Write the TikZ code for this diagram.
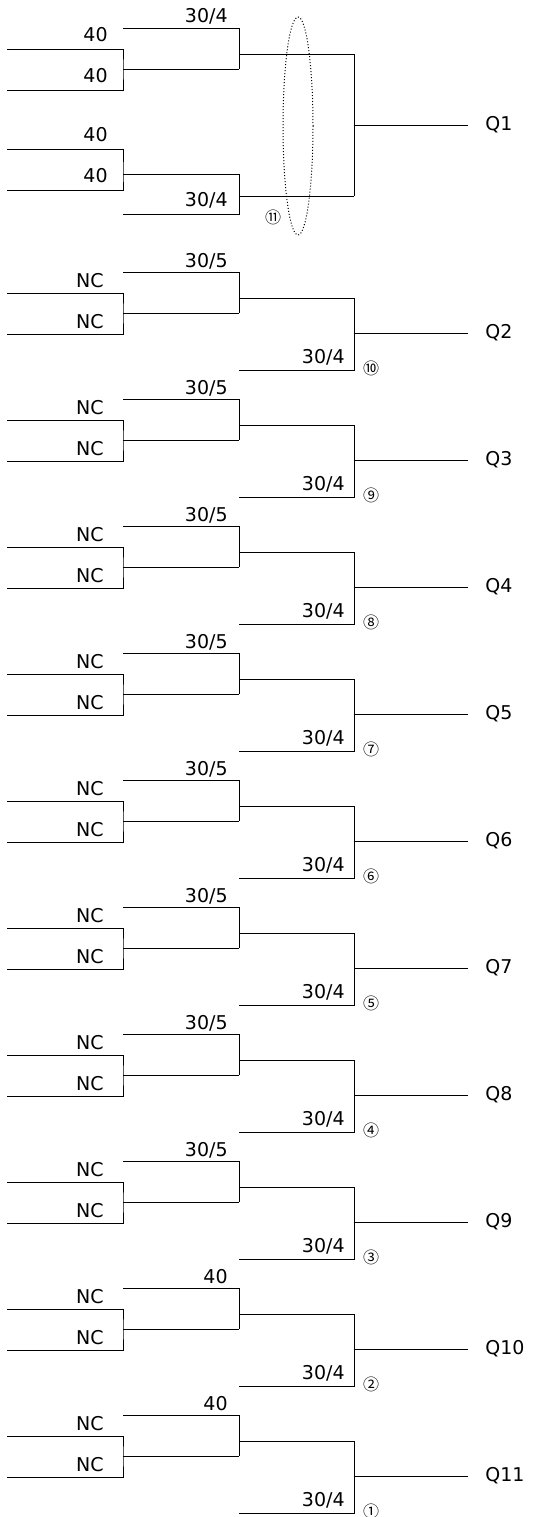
\documentclass[tikz,border=0pt]{standalone}
\usepackage{fontspec}
\setmainfont{DejaVu Sans}
\newfontfamily\cjk{Noto Sans CJK KR}

\begin{document}
\begin{tikzpicture}[x=1pt, y=-1pt, line width=0.8pt]
            \tikzset{lbl/.style = {anchor=base east, inner sep=0pt, font=\fontsize{19}{19}\selectfont},
                     qlbl/.style = {anchor=west, inner ysep=0pt, inner xsep=17pt, font=\fontsize{19}{19}\selectfont},
                     num/.style = {inner sep=0pt, font=\cjk\fontsize{16}{16}\selectfont}}
            \useasboundingbox (0,0) rectangle (552,1517);

            % upper pair of the Q1 group
            \coordinate (in1) at (7,49);
            \coordinate (in2) at (7,90);
            \coordinate (mid1) at (123,69);
            \coordinate (jn1) at (239,69);
            \coordinate (top1) at (123,28);
            \coordinate (out1) at (239,54);
            \coordinate (hub1) at (354,54);
            \draw (in1) -| (mid1) |- (in2);
            \draw (mid1) -- (jn1);
            \draw (top1) -| (jn1);
            \draw (out1) -- (hub1);
            \node[lbl] (l1) at (108,42) {40};
            \node[lbl] (l2) at (108,83) {40};
            \node[lbl] (l3) at (228,23) {30/4};

            % lower pair of the Q1 group
            \coordinate (in3) at (7,149);
            \coordinate (in4) at (7,190);
            \coordinate (mid2) at (123,174);
            \coordinate (jn2) at (239,174);
            \coordinate (bot2) at (123,214);
            \coordinate (out2) at (239,196);
            \coordinate (hub2) at (354,196);
            \draw (in3) -| (mid2) |- (in4);
            \draw (mid2) -- (jn2);
            \draw (bot2) -| (jn2);
            \draw (out2) -- (hub2);
            \node[lbl] (l4) at (108,142) {40};
            \node[lbl] (l5) at (108,183) {40};
            \node[lbl] (l6) at (228,207) {30/4};

            \coordinate (hub) at (354,125);
            \draw (hub1) -- (hub2);
            \node[qlbl] (Q1) at (468,125) {Q1};
            \draw (hub) -- (Q1.west);
            \draw[line width=1pt, dotted] (298,126) ellipse [x radius=15pt, y radius=109pt];
            \node[num] (n11) at (273,217) {⑪};

            % the NC groups
            \foreach \i/\tlbl/\q/\n in {0/{30/5}/Q2/⑩, 1/{30/5}/Q3/⑨, 2/{30/5}/Q4/⑧, 3/{30/5}/Q5/⑦,
                                        4/{30/5}/Q6/⑥, 5/{30/5}/Q7/⑤, 6/{30/5}/Q8/④, 7/{30/5}/Q9/③,
                                        8/40/Q10/②, 9/40/Q11/①}{
                \pgfmathsetmacro\y{272+127*\i}
                \coordinate (a\i) at (7,\y+21);
                \coordinate (b\i) at (7,\y+62);
                \coordinate (m\i) at (123,\y+41);
                \coordinate (j\i) at (239,\y+41);
                \coordinate (t\i) at (123,\y);
                \coordinate (o\i) at (239,\y+26);
                \coordinate (h\i) at (354,\y+26);
                \coordinate (e\i) at (239,\y+98);
                \coordinate (c\i) at (354,\y+61);
                \draw (a\i) -| (m\i) |- (b\i);
                \draw (m\i) -- (j\i);
                \draw (t\i) -| (j\i);
                \draw (o\i) -- (h\i);
                \draw (h\i) |- (e\i);
                \node[lbl] (na\i) at (104,\y+15) {NC};
                \node[lbl] (nb\i) at (104,\y+56) {NC};
                \node[lbl] (nt\i) at (228,\y-5) {\tlbl};
                \node[lbl] (ne\i) at (345,\y+91) {30/4};
                \node[qlbl] (q\i) at (468,\y+61) {\q};
                \draw (c\i) -- (q\i.west);
                \node[num] (k\i) at (371,\y+96) {\n};
            }

        \end{tikzpicture}
\end{document}
